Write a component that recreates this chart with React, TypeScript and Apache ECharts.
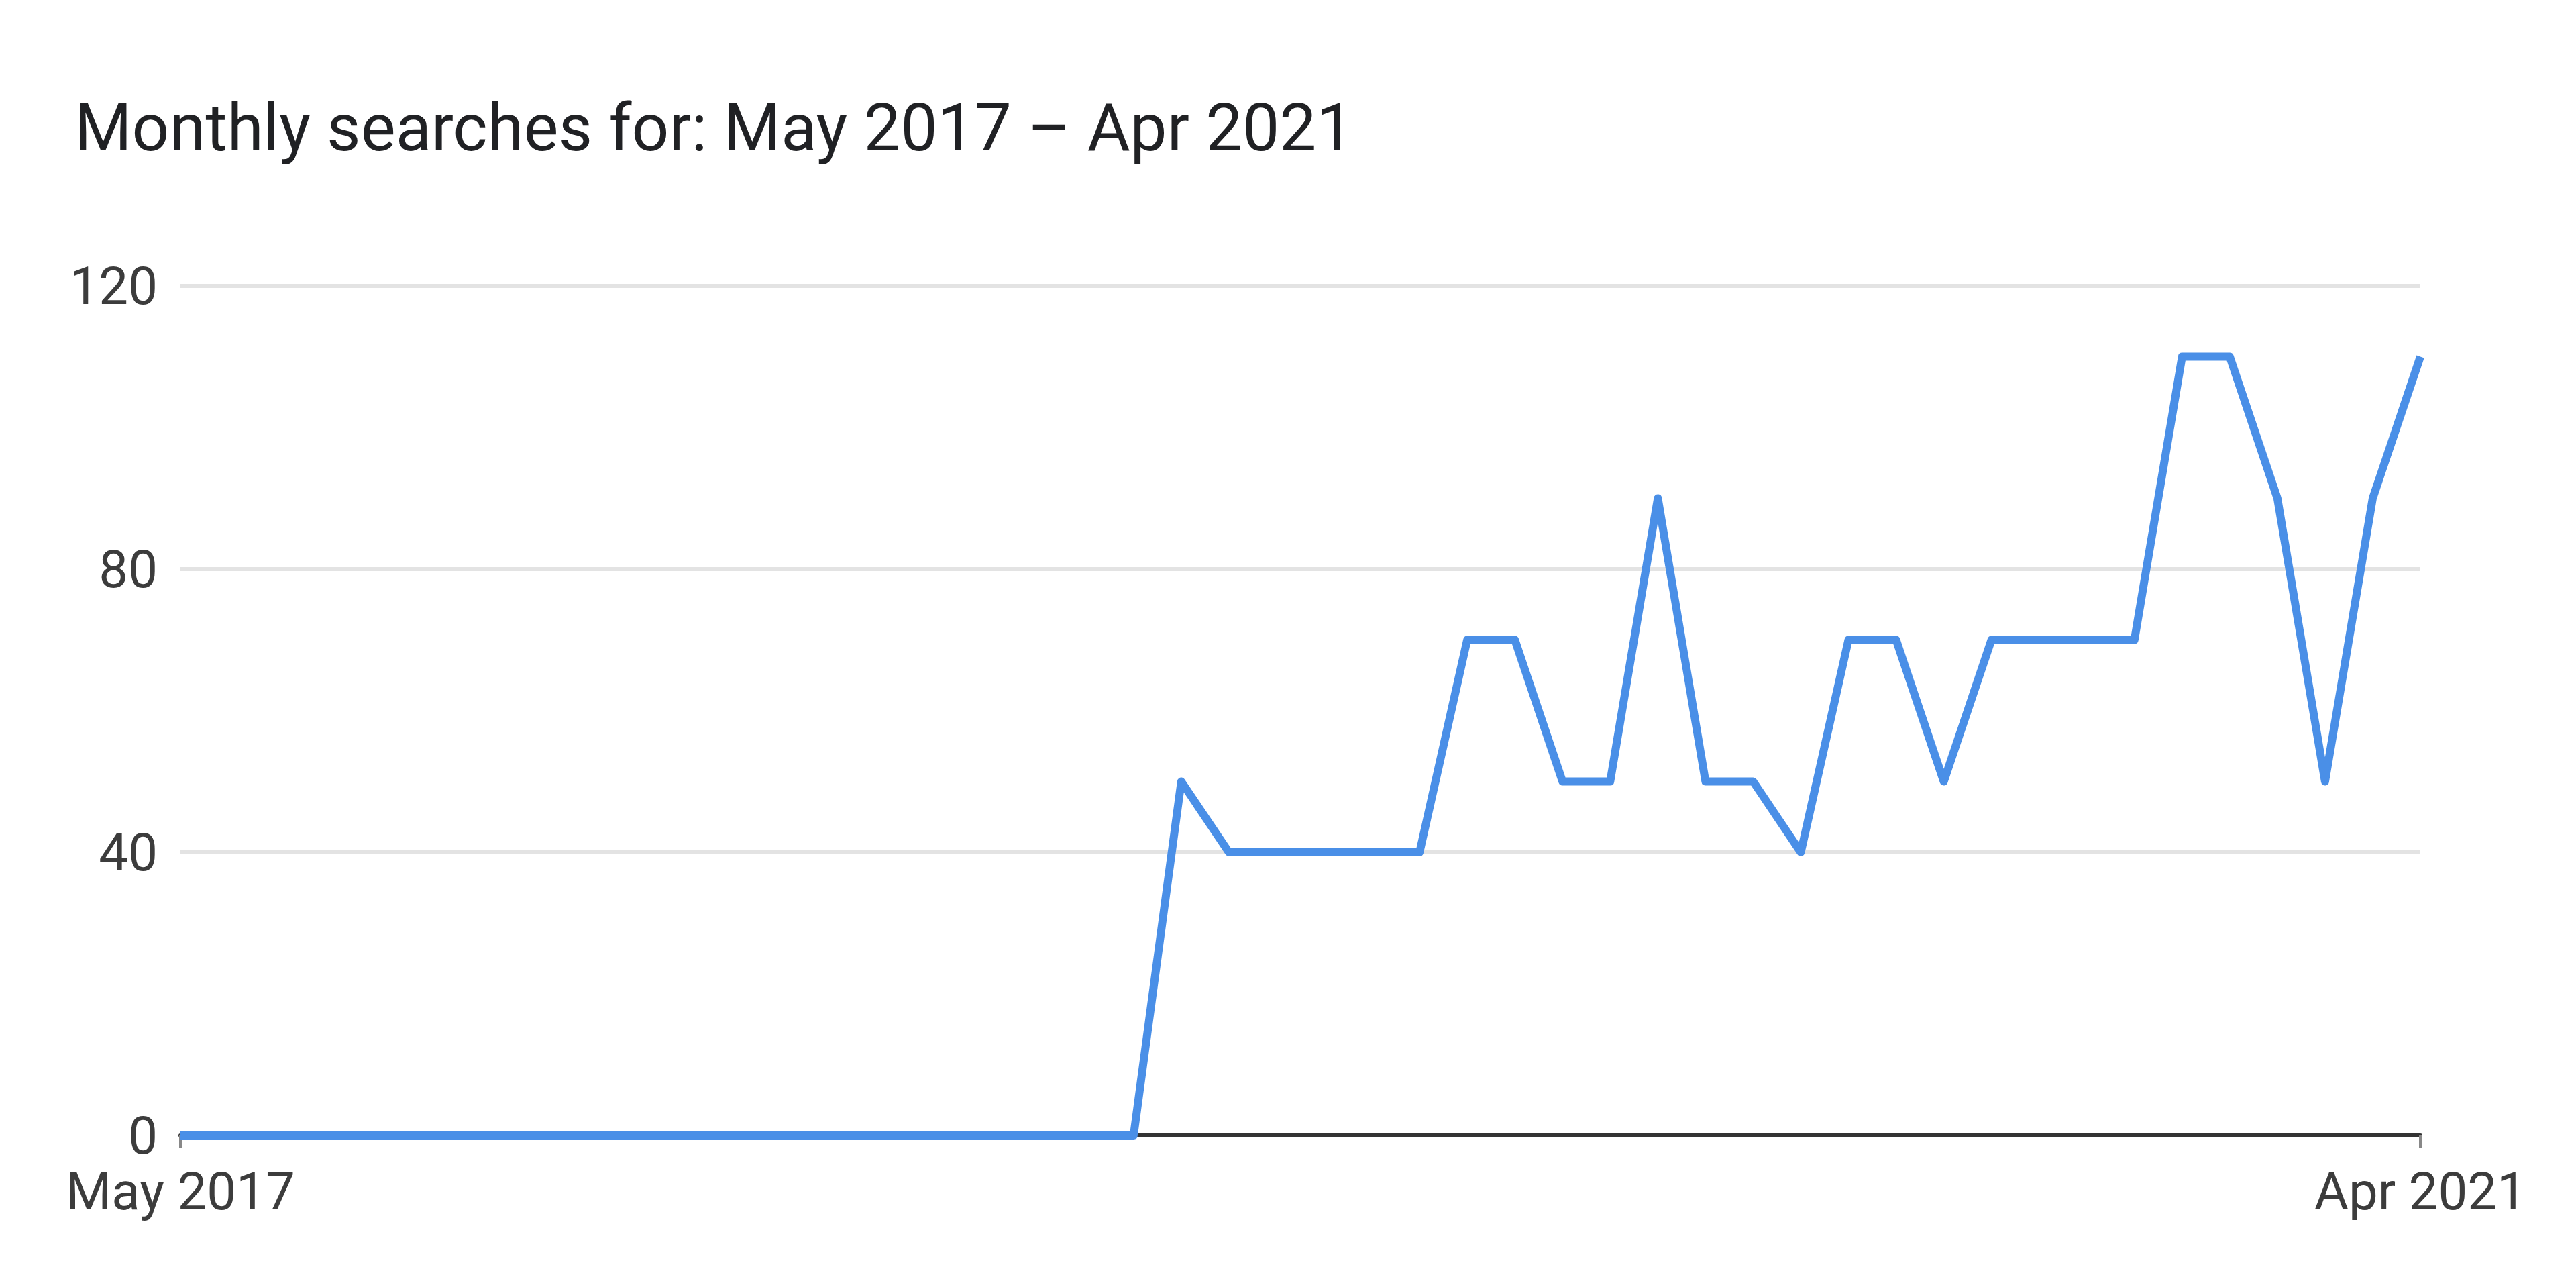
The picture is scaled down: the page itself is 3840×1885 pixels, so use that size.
import React, { useEffect, useRef } from "react";
import * as echarts from "echarts";

const TITLE = "Monthly searches for: May 2017 – Apr 2021";
const MONTH_NAMES = ["Jan", "Feb", "Mar", "Apr", "May", "Jun", "Jul", "Aug", "Sep", "Oct", "Nov", "Dec"];
const START_YEAR = 2017;
const START_MONTH = 4; // May (0-based)
const MONTH_COUNT = 48;

const months: string[] = [];
for (let i = 0; i < MONTH_COUNT; i++) {
  const m = (START_MONTH + i) % 12;
  const y = START_YEAR + Math.floor((START_MONTH + i) / 12);
  months.push(`${MONTH_NAMES[m]} ${y}`);
}

const searches: number[] = [
  0, 0, 0, 0, 0, 0, 0, 0, 0, 0, 0, 0,
  0, 0, 0, 0, 0, 0, 0, 0, 0, 50, 40, 40,
  40, 40, 40, 70, 70, 50, 50, 90, 50, 50, 40, 70,
  70, 50, 70, 70, 70, 70, 110, 110, 90, 50, 90, 110,
];

const Y_MIN = 0;
const Y_MAX = 120;
const Y_STEP = 40;

export default function App() {
  const ref = useRef<HTMLDivElement>(null);
  useEffect(() => {
    if (!ref.current) return;
    const chart = echarts.init(ref.current, undefined, { renderer: "svg" });
    const last = months.length - 1;
    const showEnds = (i: number) => i === 0 || i === last;
    chart.setOption({
      animation: false,
      backgroundColor: "#ffffff",
      title: {
        text: TITLE,
        left: 98,
        top: 128,
        textStyle: {
          fontFamily: "Roboto",
          fontSize: 98,
          fontWeight: "normal",
          color: "#202124",
        },
      },
      grid: { left: 261, right: 224, top: 418, bottom: 185, containLabel: false },
      xAxis: {
        type: "category",
        data: months,
        boundaryGap: false,
        axisLine: { show: true, lineStyle: { color: "#333333", width: 6 } },
        axisTick: {
          show: true,
          interval: (i: number) => showEnds(i),
          length: 18,
          lineStyle: { color: "#888888", width: 5 },
        },
        axisLabel: {
          interval: (i: number) => showEnds(i),
          margin: 44,
          fontFamily: "Roboto",
          fontSize: 78,
          color: "#3c3c3c",
        },
        splitLine: { show: false },
      },
      yAxis: {
        type: "value",
        min: Y_MIN,
        max: Y_MAX,
        interval: Y_STEP,
        axisLine: { show: false },
        axisTick: { show: false },
        axisLabel: {
          margin: 34,
          fontFamily: "Roboto",
          fontSize: 78,
          color: "#3c3c3c",
        },
        splitLine: { show: true, lineStyle: { color: "#e3e3e3", width: 6 } },
      },
      series: [
        {
          type: "line",
          data: searches,
          showSymbol: false,
          symbol: "none",
          lineStyle: { color: "#4a8fe7", width: 12, join: "round" },
          z: 3,
        },
      ],
    });
    return () => chart.dispose();
  }, []);
  return <div ref={ref} style={{ width: 3824, height: 1869 }} />;
}
